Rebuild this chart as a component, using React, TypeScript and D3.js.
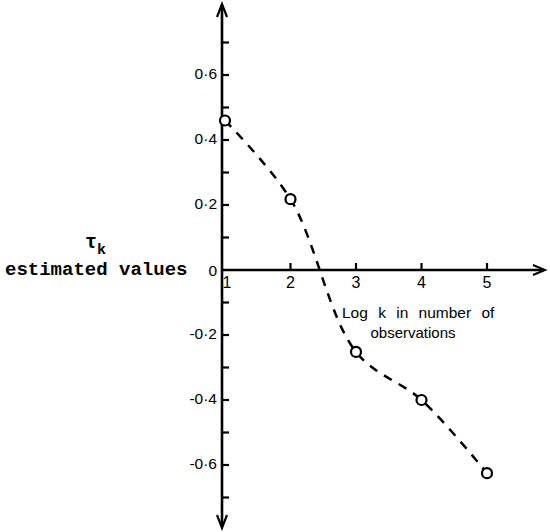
import React from "react";
import * as d3 from "d3";

const logK = [1, 2, 3, 4, 5];
const tauValues = [0.46, 0.218, -0.252, -0.4, -0.625];
const xTickValues = [1, 2, 3, 4, 5];
const yMajorTicks = [-0.6, -0.4, -0.2, 0, 0.2, 0.4, 0.6];
const yMinorTicks = [-0.7, -0.5, -0.3, -0.1, 0.1, 0.3, 0.5, 0.7];
const yTickLabels = ["-0·6", "-0·4", "-0·2", "0", "0·2", "0·4", "0·6"];
const xTitleLines = ["Log k in number of", "observations"];

const W = 550;
const H = 532;

export default function App() {
  const x = d3.scaleLinear().domain([1, 5]).range([225, 487]);
  const y = d3.scaleLinear().domain([-0.6, 0.6]).range([465, 75]);
  const axisX = x(1) - 3;
  const axisY = y(0);
  const ink = "#000";
  const lettering = "'Liberation Sans', Arial, sans-serif";

  const line = d3
    .line<number>()
    .x((_, i) => x(logK[i]))
    .y((d) => y(d))
    .curve(d3.curveCatmullRom.alpha(0.5));

  return (
    <svg
      width={W}
      height={H}
      style={{ position: "absolute", left: 0, top: 0, background: "#fff" }}
    >
      {/* y axis */}
      <line x1={axisX} y1={5} x2={axisX} y2={527} stroke={ink} strokeWidth={2.6} />
      <polyline
        points={`${axisX - 5},17 ${axisX},4 ${axisX + 5},17`}
        fill="none"
        stroke={ink}
        strokeWidth={2.2}
      />
      <polyline
        points={`${axisX - 5},515 ${axisX},528 ${axisX + 5},515`}
        fill="none"
        stroke={ink}
        strokeWidth={2.2}
      />
      {/* x axis */}
      <line x1={axisX} y1={axisY} x2={544} y2={axisY} stroke={ink} strokeWidth={2.4} />
      <polyline
        points={`${533},${axisY - 5} ${545},${axisY} ${533},${axisY + 5}`}
        fill="none"
        stroke={ink}
        strokeWidth={2}
      />
      {/* y ticks */}
      {[...yMajorTicks, ...yMinorTicks]
        .filter((v) => v !== 0)
        .map((v) => (
          <line
            key={`yt${v}`}
            x1={axisX}
            x2={axisX + 7}
            y1={y(v)}
            y2={y(v)}
            stroke={ink}
            strokeWidth={2.2}
          />
        ))}
      {yMajorTicks.map((v, i) => (
        <text
          key={`yl${v}`}
          x={axisX - 5}
          y={y(v) + (v === 0 ? 2 : 0)}
          textAnchor="end"
          dominantBaseline="middle"
          fontFamily={lettering}
          fontSize={15.5}
          fill={ink}
        >
          {yTickLabels[i]}
        </text>
      ))}
      {/* x ticks */}
      {xTickValues
        .filter((v) => v !== 1)
        .map((v) => (
          <line
            key={`xt${v}`}
            x1={x(v)}
            x2={x(v)}
            y1={axisY}
            y2={axisY - 7}
            stroke={ink}
            strokeWidth={2.2}
          />
        ))}
      {xTickValues.map((v) => (
        <text
          key={`xl${v}`}
          x={x(v) + (v === 1 ? 2 : 0)}
          y={axisY + 18}
          textAnchor="middle"
          fontFamily={lettering}
          fontSize={16}
          fill={ink}
        >
          {v}
        </text>
      ))}
      {/* x title */}
      <text x={342} y={318} fontFamily={lettering} fontSize={15.5} wordSpacing={6} fill={ink}>
        {xTitleLines[0]}
      </text>
      <text x={413} y={338} textAnchor="middle" fontFamily={lettering} fontSize={15} fill={ink}>
        {xTitleLines[1]}
      </text>
      {/* y title */}
      <text x={85} y={248} fontFamily="'Liberation Mono', monospace" fontSize={20} fontWeight="bold" fill={ink}>
        τ
        <tspan dy={6} fontSize={15}>k</tspan>
      </text>
      <text
        x={5}
        y={275}
        fontFamily="'Liberation Mono', monospace"
        fontSize={19}
        fontWeight="bold"
        fill={ink}
      >
        estimated values
      </text>
      {/* dashed curve */}
      <path
        d={line(tauValues) || ""}
        fill="none"
        stroke={ink}
        strokeWidth={2.5}
        strokeDasharray="9 8"
      />
      {/* points */}
      {tauValues.map((v, i) => (
        <circle
          key={`p${i}`}
          cx={x(logK[i])}
          cy={y(v)}
          r={5}
          fill="#fff"
          stroke={ink}
          strokeWidth={2.2}
        />
      ))}
    </svg>
  );
}
